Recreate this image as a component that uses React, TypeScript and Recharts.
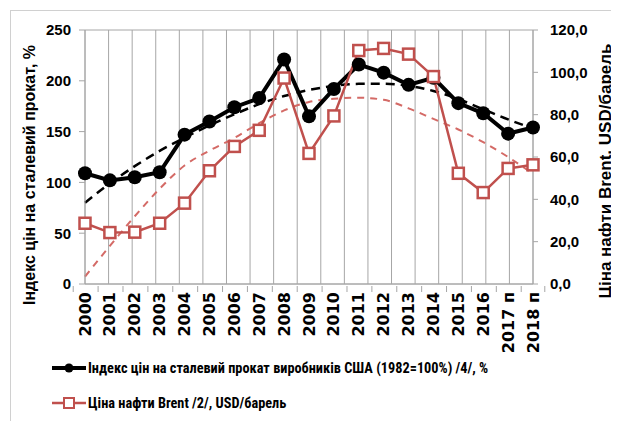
import { LineChart, Line, XAxis, YAxis, CartesianGrid } from "recharts";

const years = [
  "2000", "2001", "2002", "2003", "2004", "2005", "2006", "2007", "2008", "2009",
  "2010", "2011", "2012", "2013", "2014", "2015", "2016", "2017 п", "2018 п",
];
const steelIndex = [109, 102, 105, 110, 147, 160, 174, 183, 221, 165, 192, 216, 208, 196, 203, 178, 168, 148, 154];
const brentPrice = [28.7, 24.3, 24.5, 28.7, 38.2, 53.5, 65, 72.6, 97.3, 61.7, 79.4, 110.3, 111.3, 108.6, 98, 52.3, 43.2, 54.6, 56.3];
const steelTrend = [80, 99, 116, 131, 144, 156, 167, 177, 185, 191, 195, 197, 197, 195, 190, 182, 172, 162, 153];
const brentTrend = [3.5, 18, 32, 45, 56, 63, 69, 76, 82, 86, 87.5, 88, 87, 83, 78, 73, 67, 60, 52];

const leftTicks = [0, 50, 100, 150, 200, 250];
const rightTicks = [0, 20, 40, 60, 80, 100, 120];

const steelLabel = "Індекс цін на сталевий прокат виробників США (1982=100%) /4/, %";
const brentLabel = "Ціна нафти Brent /2/, USD/барель";

const data = years.map((year, i) => ({
  year,
  steel: steelIndex[i],
  brent: brentPrice[i],
  steelTrend: steelTrend[i],
  brentTrend: brentTrend[i],
}));

const RED = "#c0504d";
const GRID = "#a6a6a6";
const CHART_W = 608;
const CHART_H = 345;
const LEFT_W = 74;
const RIGHT_W = 86;
const TOP = 19;
const PLOT_W = CHART_W - LEFT_W - RIGHT_W;
const STEP = PLOT_W / years.length;
const numFont = "'Liberation Sans', Arial, sans-serif";
const narrowFont = "'Liberation Sans Narrow', 'Arial Narrow', 'Roboto Condensed', Roboto, sans-serif";

const fmt = (v: number) => v.toFixed(1).replace(".", ",");

function YearTick(props: any) {
  const { x, y, payload, index } = props;
  const i = index ?? payload.index;
  return (
    <g>
      <line x1={x - STEP / 2} x2={x - STEP / 2} y1={y - 6} y2={y} stroke={GRID} />
      {i === years.length - 1 && (
        <line x1={x + STEP / 2} x2={x + STEP / 2} y1={y - 6} y2={y} stroke={GRID} />
      )}
      <text
        transform={`translate(${x},${y}) rotate(-90)`}
        textAnchor="end"
        dominantBaseline="central"
        fontFamily="DejaVu Sans"
        fontWeight="bold"
        fontSize={16}
        fill="#000"
      >
        {payload.value}
      </text>
    </g>
  );
}

function SquareDot(props: any) {
  const { cx, cy } = props;
  if (cx == null || cy == null) return null;
  return <rect x={cx - 5.5} y={cy - 5.5} width={11} height={11} fill="#fff" stroke={RED} strokeWidth={2.5} />;
}

function RoundDot(props: any) {
  const { cx, cy } = props;
  if (cx == null || cy == null) return null;
  return <circle cx={cx} cy={cy} r={7} fill="#000" />;
}

function LegendRow({ top, label, kind }: { top: number; label: string; kind: "steel" | "brent" }) {
  return (
    <div style={{ position: "absolute", left: 41, top: top - 10, height: 20, display: "flex", alignItems: "center" }}>
      <svg width={36} height={20}>
        {kind === "steel" ? (
          <>
            <line x1={0} x2={34} y1={10} y2={10} stroke="#000" strokeWidth={4} />
            <circle cx={17} cy={10} r={4.5} fill="#000" />
          </>
        ) : (
          <>
            <line x1={0} x2={34} y1={10} y2={10} stroke={RED} strokeWidth={2.5} />
            <rect x={12} y={5} width={10} height={10} fill="#fff" stroke={RED} strokeWidth={2} />
          </>
        )}
      </svg>
      <span style={{ fontFamily: narrowFont, fontWeight: "bold", fontSize: 14.3, whiteSpace: "nowrap", color: "#000" }}>
        {label}
      </span>
    </div>
  );
}

export default function App() {
  return (
    <div
      style={{
        position: "relative",
        marginLeft: 2,
        marginTop: 2,
        width: 620,
        height: 420,
        borderTop: "1px solid #d0d0d0",
        borderLeft: "1px solid #d0d0d0",
        background: "#fff",
      }}
    >
      <LineChart width={CHART_W} height={CHART_H} data={data} margin={{ top: TOP, right: 0, left: 0, bottom: 12 }}>
        <CartesianGrid
          stroke={GRID}
          verticalCoordinatesGenerator={({ offset }: any) =>
            years.map((_, i) => offset.left + i * STEP).concat(offset.left + PLOT_W)
          }
        />
        <XAxis
          dataKey="year"
          interval={0}
          tickLine={false}
          axisLine={{ stroke: GRID }}
          height={60}
          tick={<YearTick />}
        />
        <YAxis
          yAxisId="left"
          domain={[0, 250]}
          ticks={leftTicks}
          width={LEFT_W}
          axisLine={{ stroke: GRID }}
          tickLine={{ stroke: GRID }}
          tickSize={6}
          tickMargin={8}
          tick={{ fill: "#000", fontSize: 15, fontWeight: "bold", fontFamily: numFont }}
          label={{
            content: () => (
              <text
                transform={`translate(18,${TOP + 145}) rotate(-90)`}
                textAnchor="middle"
                dominantBaseline="central"
                fontFamily={numFont}
                fontWeight="bold"
                fontSize={16}
                fill="#000"
              >
                Індекс цін на сталевий прокат, %
              </text>
            ),
          }}
        />
        <YAxis
          yAxisId="right"
          orientation="right"
          domain={[0, 120]}
          ticks={rightTicks}
          tickFormatter={fmt}
          width={RIGHT_W}
          axisLine={{ stroke: GRID }}
          tickLine={{ stroke: GRID }}
          tickSize={5}
          tickMargin={12}
          tick={{ fill: "#000", fontSize: 15, fontWeight: "bold", fontFamily: numFont, textAnchor: "start" }}
          label={{
            content: () => (
              <text
                transform={`translate(${CHART_W - 14},${TOP + 141}) rotate(-90)`}
                textAnchor="middle"
                dominantBaseline="central"
                fontFamily={numFont}
                fontWeight="bold"
                fontSize={17}
                fill="#000"
              >
                Ціна нафти Brent, USD/барель
              </text>
            ),
          }}
        />
        <Line
          yAxisId="left"
          dataKey="steelTrend"
          stroke="#000"
          strokeWidth={2.5}
          strokeDasharray="9 6"
          dot={false}
          type="monotone"
          isAnimationActive={false}
        />
        <Line
          yAxisId="right"
          dataKey="brentTrend"
          stroke="#d46a66"
          strokeWidth={2}
          strokeDasharray="7 6"
          dot={false}
          type="monotone"
          isAnimationActive={false}
        />
        <Line
          yAxisId="left"
          dataKey="steel"
          stroke="#000"
          strokeWidth={4}
          dot={<RoundDot />}
          isAnimationActive={false}
        />
        <Line
          yAxisId="right"
          dataKey="brent"
          stroke={RED}
          strokeWidth={2.5}
          dot={<SquareDot />}
          isAnimationActive={false}
        />
      </LineChart>
      <LegendRow top={357} label={steelLabel} kind="steel" />
      <LegendRow top={392} label={brentLabel} kind="brent" />
    </div>
  );
}
